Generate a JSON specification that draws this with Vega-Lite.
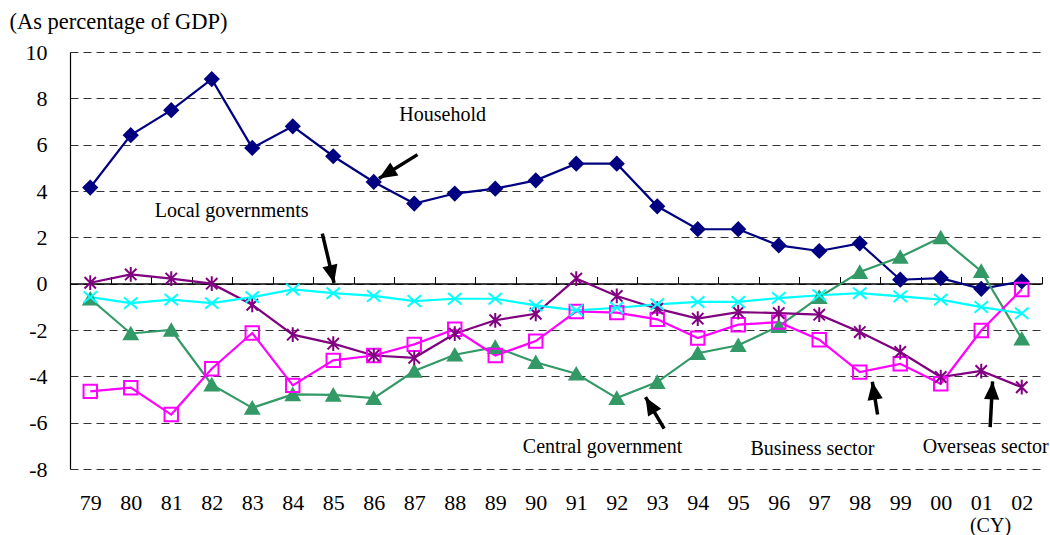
{
  "$schema": "https://vega.github.io/schema/vega-lite/v6.json",
  "width": 972,
  "height": 417,
  "autosize": {"type": "none"},
  "padding": {"left": 70, "top": 52, "right": 8, "bottom": 66},
  "background": "white",
  "config": {
    "view": {"stroke": null},
    "font": "Liberation Serif",
    "axis": {"labelFont": "Liberation Serif", "titleFont": "Liberation Serif", "labelColor": "black", "titleColor": "black", "titleFontWeight": "normal"}
  },
  "datasets": {
    "series": [
      {"year": 1979, "Household": 4.15, "Central government": -0.65, "Business sector": -4.65, "Overseas sector": 0.04, "Local governments": -0.58},
      {"year": 1980, "Household": 6.41, "Central government": -2.15, "Business sector": -4.49, "Overseas sector": 0.40, "Local governments": -0.84},
      {"year": 1981, "Household": 7.49, "Central government": -2.0, "Business sector": -5.65, "Overseas sector": 0.22, "Local governments": -0.69},
      {"year": 1982, "Household": 8.83, "Central government": -4.36, "Business sector": -3.67, "Overseas sector": 0.0, "Local governments": -0.84},
      {"year": 1983, "Household": 5.86, "Central government": -5.36, "Business sector": -2.13, "Overseas sector": -0.91, "Local governments": -0.58},
      {"year": 1984, "Household": 6.79, "Central government": -4.78, "Business sector": -4.39, "Overseas sector": -2.2, "Local governments": -0.25},
      {"year": 1985, "Household": 5.50, "Central government": -4.8, "Business sector": -3.31, "Overseas sector": -2.59, "Local governments": -0.41},
      {"year": 1986, "Household": 4.39, "Central government": -4.94, "Business sector": -3.10, "Overseas sector": -3.10, "Local governments": -0.53},
      {"year": 1987, "Household": 3.46, "Central government": -3.77, "Business sector": -2.62, "Overseas sector": -3.2, "Local governments": -0.75},
      {"year": 1988, "Household": 3.89, "Central government": -3.07, "Business sector": -1.97, "Overseas sector": -2.16, "Local governments": -0.65},
      {"year": 1989, "Household": 4.10, "Central government": -2.74, "Business sector": -3.10, "Overseas sector": -1.58, "Local governments": -0.65},
      {"year": 1990, "Household": 4.46, "Central government": -3.39, "Business sector": -2.48, "Overseas sector": -1.30, "Local governments": -0.94},
      {"year": 1991, "Household": 5.18, "Central government": -3.89, "Business sector": -1.20, "Overseas sector": 0.22, "Local governments": -1.15},
      {"year": 1992, "Household": 5.18, "Central government": -4.94, "Business sector": -1.25, "Overseas sector": -0.53, "Local governments": -1.04},
      {"year": 1993, "Household": 3.34, "Central government": -4.25, "Business sector": -1.54, "Overseas sector": -1.08, "Local governments": -0.89},
      {"year": 1994, "Household": 2.35, "Central government": -3.0, "Business sector": -2.35, "Overseas sector": -1.51, "Local governments": -0.79},
      {"year": 1995, "Household": 2.35, "Central government": -2.66, "Business sector": -1.77, "Overseas sector": -1.23, "Local governments": -0.79},
      {"year": 1996, "Household": 1.65, "Central government": -1.84, "Business sector": -1.66, "Overseas sector": -1.27, "Local governments": -0.62},
      {"year": 1997, "Household": 1.41, "Central government": -0.58, "Business sector": -2.42, "Overseas sector": -1.34, "Local governments": -0.5},
      {"year": 1998, "Household": 1.74, "Central government": 0.50, "Business sector": -3.82, "Overseas sector": -2.09, "Local governments": -0.41},
      {"year": 1999, "Household": 0.17, "Central government": 1.15, "Business sector": -3.46, "Overseas sector": -2.95, "Local governments": -0.55},
      {"year": 2000, "Household": 0.24, "Central government": 1.99, "Business sector": -4.32, "Overseas sector": -4.03, "Local governments": -0.69},
      {"year": 2001, "Household": -0.22, "Central government": 0.54, "Business sector": -2.02, "Overseas sector": -3.77, "Local governments": -1.01},
      {"year": 2002, "Household": 0.10, "Central government": -2.38, "Business sector": -0.25, "Overseas sector": -4.47, "Local governments": -1.28}
    ],
    "arrows": [
      {"label": "Household", "x": 1987.08, "y": 5.57, "x2": 1986.13, "y2": 4.54},
      {"label": "Local governments", "x": 1984.73, "y": 2.16, "x2": 1985.02, "y2": 0.03},
      {"label": "Central government", "x": 1993.17, "y": -6.26, "x2": 1992.71, "y2": -4.90},
      {"label": "Business sector", "x": 1998.44, "y": -5.65, "x2": 1998.31, "y2": -4.23},
      {"label": "Overseas sector", "x": 2001.22, "y": -6.19, "x2": 2001.28, "y2": -4.22}
    ],
    "notes": [
      {"text": "Household", "x": 1987.7, "y": 7.27},
      {"text": "Local governments", "x": 1982.49, "y": 3.12},
      {"text": "Central government", "x": 1991.65, "y": -7.07},
      {"text": "Business sector", "x": 1996.83, "y": -7.13},
      {"text": "Overseas sector", "x": 2001.11, "y": -7.03}
    ]
  },
  "resolve": {"axis": {"x": "independent", "y": "independent"}},
  "layer": [
    {
      "data": {"name": "series"},
      "transform": [{"fold": ["Household", "Central government", "Business sector", "Overseas sector", "Local governments"], "as": ["sector", "value"]}],
      "mark": {"type": "line", "strokeWidth": 2.2},
      "encoding": {
        "x": {"field": "year", "type": "quantitative",
          "scale": {"domain": [1978.5, 2002.5], "nice": false, "zero": false},
          "axis": {"orient": "bottom", "values": [1979,1980,1981,1982,1983,1984,1985,1986,1987,1988,1989,1990,1991,1992,1993,1994,1995,1996,1997,1998,1999,2000,2001,2002],
            "labelExpr": "substring(toString(datum.value), 2)", "domain": false, "ticks": false, "tickSize": 0, "grid": false,
            "labelPadding": 23, "labelFontSize": 22, "labelFlush": false,
            "title": "(CY)", "titleFontSize": 20, "titleX": 920, "titleY": 62, "titleAlign": "center", "titleBaseline": "alphabetic"}},
        "y": {"field": "value", "type": "quantitative",
          "scale": {"domain": [-8, 10], "nice": false, "zero": false},
          "axis": {"orient": "left", "values": [-8,-6,-4,-2,0,2,4,6,8,10], "labelExpr": "toString(datum.value)", "domain": true, "domainColor": "black", "domainWidth": 1.2,
            "ticks": false, "tickSize": 0, "labelPadding": 23, "labelFontSize": 22,
            "grid": true, "gridColor": "#333", "gridDash": [8, 5], "gridWidth": 1,
            "title": "(As percentage of GDP)", "titleAngle": 0, "titleFontSize": 22.5, "titleX": -61, "titleY": -24, "titleAlign": "left", "titleBaseline": "alphabetic"}},
        "color": {"field": "sector", "type": "nominal", "legend": null,
          "scale": {"domain": ["Household", "Central government", "Business sector", "Overseas sector", "Local governments"],
                    "range": ["#000080", "#339966", "#FF00FF", "#800080", "#00FFFF"]}}
      }
    },
    {
      "data": {"name": "series"},
      "transform": [{"fold": ["Household", "Central government", "Business sector", "Overseas sector", "Local governments"], "as": ["sector", "value"]}],
      "mark": {"type": "point", "size": 180, "strokeWidth": 2, "opacity": 1},
      "encoding": {
        "x": {"field": "year", "type": "quantitative",
          "scale": {"domain": [1978.5, 2002.5], "nice": false, "zero": false},
          "axis": {"orient": "top", "offset": -231.5, "values": [1978.5,1979.5,1980.5,1981.5,1982.5,1983.5,1984.5,1985.5,1986.5,1987.5,1988.5,1989.5,1990.5,1991.5,1992.5,1993.5,1994.5,1995.5,1996.5,1997.5,1998.5,1999.5,2000.5,2001.5,2002.5],
            "labels": false, "domain": true, "domainColor": "black", "domainWidth": 1.5, "ticks": true, "tickSize": 7, "tickColor": "black", "tickWidth": 1, "grid": false, "title": null}},
        "y": {"field": "value", "type": "quantitative", "scale": {"domain": [-8, 10], "nice": false, "zero": false}, "axis": null},
        "shape": {"field": "sector", "type": "nominal", "legend": null,
          "scale": {"domain": ["Household", "Central government", "Business sector", "Overseas sector", "Local governments"],
                    "range": ["diamond", "triangle-up", "square", "M-0.85,-0.85L0.85,0.85M-0.85,0.85L0.85,-0.85M0,-1.1L0,1.1", "M-1,-0.85L1,0.85M-1,0.85L1,-0.85"]}},
        "stroke": {"field": "sector", "type": "nominal", "legend": null,
          "scale": {"domain": ["Household", "Central government", "Business sector", "Overseas sector", "Local governments"],
                    "range": ["#000080", "#339966", "#FF00FF", "#800080", "#00FFFF"]}},
        "fill": {"field": "sector", "type": "nominal", "legend": null,
          "scale": {"domain": ["Household", "Central government", "Business sector", "Overseas sector", "Local governments"],
                    "range": ["#000080", "#339966", "transparent", "transparent", "transparent"]}}
      }
    },
    {
      "data": {"name": "arrows"},
      "mark": {"type": "rule", "strokeWidth": 3.5, "color": "black"},
      "encoding": {
        "x": {"field": "x", "type": "quantitative", "scale": {"domain": [1978.5, 2002.5], "nice": false, "zero": false}, "axis": null},
        "y": {"field": "y", "type": "quantitative", "scale": {"domain": [-8, 10], "nice": false, "zero": false}, "axis": null},
        "x2": {"field": "x2"},
        "y2": {"field": "y2"}
      }
    },
    {
      "data": {"name": "arrows"},
      "transform": [{"calculate": "atan2((datum.x2 - datum.x) * 40.5, (datum.y2 - datum.y) * 23.17) * 180 / PI", "as": "dir"}],
      "mark": {"type": "point", "shape": "M0,0L-0.85,2L0.85,2Z", "size": 324, "filled": true, "color": "black", "opacity": 1},
      "encoding": {
        "x": {"field": "x2", "type": "quantitative", "scale": {"domain": [1978.5, 2002.5], "nice": false, "zero": false}, "axis": null},
        "y": {"field": "y2", "type": "quantitative", "scale": {"domain": [-8, 10], "nice": false, "zero": false}, "axis": null},
        "angle": {"field": "dir", "type": "quantitative", "scale": null}
      }
    },
    {
      "data": {"name": "notes"},
      "mark": {"type": "text", "font": "Liberation Serif", "fontSize": 20, "color": "black", "align": "center", "baseline": "middle"},
      "encoding": {
        "x": {"field": "x", "type": "quantitative", "scale": {"domain": [1978.5, 2002.5], "nice": false, "zero": false}, "axis": null},
        "y": {"field": "y", "type": "quantitative", "scale": {"domain": [-8, 10], "nice": false, "zero": false}, "axis": null},
        "text": {"field": "text"}
      }
    }
  ]
}
